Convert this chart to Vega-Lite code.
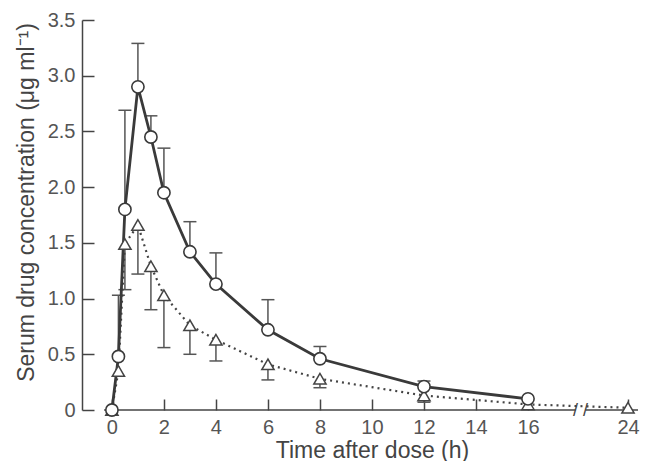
{
  "$schema": "https://vega.github.io/schema/vega-lite/v6.json",
  "width": 556,
  "height": 390,
  "autosize": "none",
  "padding": {"left": 82, "top": 20, "right": 10, "bottom": 51},
  "background": "white",
  "config": {"view": {"stroke": null}, "font": "Liberation Sans"},
  "datasets": {
    "pts": [
      {"series": "circle", "t": 0, "v": 0, "cap": null},
      {"series": "circle", "t": 0.25, "v": 0.48, "cap": 1.03},
      {"series": "circle", "t": 0.5, "v": 1.80, "cap": 2.69},
      {"series": "circle", "t": 1, "v": 2.90, "cap": 3.29},
      {"series": "circle", "t": 1.5, "v": 2.45, "cap": 2.64},
      {"series": "circle", "t": 2, "v": 1.95, "cap": 2.35},
      {"series": "circle", "t": 3, "v": 1.42, "cap": 1.69},
      {"series": "circle", "t": 4, "v": 1.13, "cap": 1.41},
      {"series": "circle", "t": 6, "v": 0.72, "cap": 0.99},
      {"series": "circle", "t": 8, "v": 0.46, "cap": 0.57},
      {"series": "circle", "t": 12, "v": 0.21, "cap": 0.26},
      {"series": "circle", "t": 16, "v": 0.10, "cap": null},
      {"series": "triangle", "t": 0, "v": 0, "cap": null},
      {"series": "triangle", "t": 0.25, "v": 0.35, "cap": null},
      {"series": "triangle", "t": 0.5, "v": 1.49, "cap": 1.08},
      {"series": "triangle", "t": 1, "v": 1.66, "cap": 1.22},
      {"series": "triangle", "t": 1.5, "v": 1.29, "cap": 0.90},
      {"series": "triangle", "t": 2, "v": 1.03, "cap": 0.56},
      {"series": "triangle", "t": 3, "v": 0.76, "cap": 0.50},
      {"series": "triangle", "t": 4, "v": 0.63, "cap": 0.44},
      {"series": "triangle", "t": 6, "v": 0.41, "cap": 0.27},
      {"series": "triangle", "t": 8, "v": 0.28, "cap": 0.20},
      {"series": "triangle", "t": 12, "v": 0.13, "cap": 0.07},
      {"series": "triangle", "t": 16, "v": 0.05, "cap": null},
      {"series": "triangle", "t": 24, "v": 0.02, "cap": null}
    ],
    "axisline": [{"t": -0.3, "t2": 19.8, "v": 0}, {"t": 20.6, "t2": 24.8, "v": 0}],
    "brk": [{"t": 19.8, "v": 0, "s": "/"}, {"t": 20.6, "v": 0, "s": "/"}]
  },
  "encoding": {
    "x": {
      "field": "t",
      "type": "quantitative",
      "scale": {"domain": [-1.15, 16, 24], "range": [0, 446, 546], "zero": false, "nice": false},
      "axis": {
        "title": "Time after dose (h)",
        "values": [0, 2, 4, 6, 8, 10, 12, 14, 16, 24],
        "domain": false,
        "grid": false,
        "tickSize": -11,
        "tickColor": "#444",
        "tickWidth": 1.5,
        "labelPadding": 18,
        "labelFlush": false,
        "labelFontSize": 20,
        "labelColor": "#555",
        "titleFontSize": 23,
        "titleFontWeight": "normal",
        "titleColor": "#444",
        "titleX": 290,
        "titleY": 40,
        "titleAlign": "center",
        "titleBaseline": "middle"
      }
    },
    "y": {
      "field": "v",
      "type": "quantitative",
      "scale": {"domain": [0, 3.5], "nice": false, "zero": true},
      "axis": {
        "title": "Serum drug concentration (μg ml⁻¹)",
        "values": [0, 0.5, 1, 1.5, 2, 2.5, 3, 3.5],
        "labelExpr": "datum.value === 0 ? '0' : format(datum.value, '.1f')",
        "grid": false,
        "domainColor": "#444",
        "domainWidth": 1.5,
        "tickSize": -12,
        "tickColor": "#444",
        "tickWidth": 1.5,
        "labelPadding": 19,
        "labelFlush": false,
        "labelFontSize": 20,
        "labelColor": "#555",
        "titleFontSize": 23,
        "titleFontWeight": "normal",
        "titleColor": "#444",
        "titleX": -56,
        "titleY": 182,
        "titleAngle": -90,
        "titleAlign": "center",
        "titleBaseline": "middle"
      }
    }
  },
  "layer": [
    {
      "data": {"name": "axisline"},
      "mark": {"type": "rule", "stroke": "#444", "strokeWidth": 1.5},
      "encoding": {"x2": {"field": "t2"}}
    },
    {
      "data": {"name": "brk"},
      "mark": {"type": "text", "fontSize": 18, "color": "#444", "dy": 1},
      "encoding": {"text": {"field": "s"}}
    },
    {
      "data": {"name": "pts"},
      "transform": [{"filter": "datum.cap != null"}],
      "mark": {"type": "rule", "stroke": "#555", "strokeWidth": 1.5},
      "encoding": {"y2": {"field": "cap"}}
    },
    {
      "data": {"name": "pts"},
      "transform": [{"filter": "datum.cap != null"}],
      "mark": {"type": "tick", "orient": "horizontal", "size": 13, "thickness": 1.5, "color": "#555", "opacity": 1},
      "encoding": {"y": {"field": "cap", "type": "quantitative"}}
    },
    {
      "data": {"name": "pts"},
      "transform": [{"filter": "datum.series === 'triangle'"}],
      "mark": {"type": "line", "stroke": "#444", "strokeWidth": 2.2, "strokeDash": [2, 4]}
    },
    {
      "data": {"name": "pts"},
      "transform": [{"filter": "datum.series === 'circle'"}],
      "mark": {"type": "line", "stroke": "#3a3a3a", "strokeWidth": 2.8}
    },
    {
      "data": {"name": "pts"},
      "transform": [{"filter": "datum.series === 'triangle'"}],
      "mark": {"type": "point", "shape": "triangle-up", "size": 150, "filled": true, "fill": "white", "stroke": "#444", "strokeWidth": 1.5, "opacity": 1}
    },
    {
      "data": {"name": "pts"},
      "transform": [{"filter": "datum.series === 'circle'"}],
      "mark": {"type": "point", "shape": "circle", "size": 150, "filled": true, "fill": "white", "stroke": "#3a3a3a", "strokeWidth": 1.6, "opacity": 1}
    }
  ]
}
